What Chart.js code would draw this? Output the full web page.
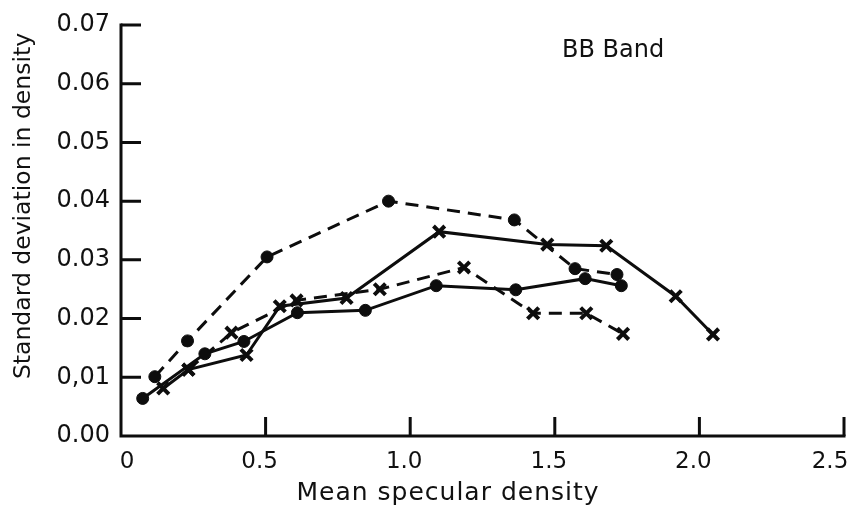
<!DOCTYPE html>
<html>
<head>
<meta charset="utf-8">
<script src="https://cdn.jsdelivr.net/npm/chart.js@4.4.1/dist/chart.umd.min.js"></script>
<style>
  html, body { margin: 0; padding: 0; background: #ffffff; }
  #wrap { width: 847px; height: 523px; }
</style>
</head>
<body>
<div id="wrap"><canvas id="c" width="847" height="523"></canvas></div>
<script>
// ---- data ----
const xTickValues = [0, 0.5, 1.0, 1.5, 2.0, 2.5];
const xTickLabels = ['0', '0.5', '1.0', '1.5', '2.0', '2.5'];
const yTickValues = [0, 0.01, 0.02, 0.03, 0.04, 0.05, 0.06, 0.07];
const yTickLabels = ['0.00', '0,01', '0.02', '0.03', '0.04', '0.05', '0.06', '0.07'];

// dashed line, filled dots
const dotsDashedX = [0.117, 0.23, 0.505, 0.925, 1.36, 1.57, 1.715];
const dotsDashedY = [0.0101, 0.0162, 0.0305, 0.0400, 0.0368, 0.0285, 0.0275];
// solid line, filled dots
const dotsSolidX = [0.075, 0.29, 0.425, 0.61, 0.845, 1.09, 1.365, 1.605, 1.73];
const dotsSolidY = [0.0064, 0.0140, 0.0161, 0.0210, 0.0214, 0.0256, 0.0249, 0.0268, 0.0256];
// solid line, crosses
const crossSolidX = [0.146, 0.233, 0.434, 0.549, 0.78, 1.10, 1.474, 1.678, 1.918, 2.047];
const crossSolidY = [0.0081, 0.0113, 0.0138, 0.0221, 0.0235, 0.0348, 0.0326, 0.0324, 0.0238, 0.0173];
// dashed line, crosses
const crossDashedX = [0.233, 0.382, 0.607, 0.895, 1.186, 1.425, 1.609, 1.736];
const crossDashedY = [0.0113, 0.0176, 0.0231, 0.0250, 0.0287, 0.0209, 0.0209, 0.0174];

const xTitle = 'Mean specular density';
const yTitle = 'Standard deviation in density';
const bandLabel = 'BB Band';

function pts(xs, ys) { return xs.map((x, i) => ({ x: x, y: ys[i] })); }

const INK = '#0d0d0d';
const DASH = [13, 8];

function ds(xs, ys, dashed, style) {
  const isCross = style === 'crossRot';
  return {
    data: pts(xs, ys),
    showLine: true,
    borderColor: INK,
    backgroundColor: INK,
    borderWidth: 3,
    borderDash: dashed ? DASH : [],
    pointStyle: style,
    pointRadius: isCross ? 8 : 6,
    pointBorderWidth: isCross ? 4 : 1,
    pointBackgroundColor: INK,
    pointBorderColor: INK,
    tension: 0,
    clip: false
  };
}

const axesPlugin = {
  id: 'axesPlugin',
  beforeDatasetsDraw(chart) {
    const ctx = chart.ctx;
    const xs = chart.scales.x, ys = chart.scales.y;
    const left = xs.getPixelForValue(0);
    const right = xs.getPixelForValue(2.5);
    const bottom = ys.getPixelForValue(0);
    const top = ys.getPixelForValue(0.07);
    ctx.save();
    ctx.strokeStyle = INK;
    ctx.lineWidth = 3;
    ctx.lineCap = 'square';
    ctx.beginPath();
    ctx.moveTo(left, top);
    ctx.lineTo(left, bottom);
    ctx.lineTo(right, bottom);
    ctx.stroke();
    ctx.lineCap = 'butt';
    ctx.beginPath();
    yTickValues.forEach(v => {
      if (v === 0) return;
      const p = ys.getPixelForValue(v);
      ctx.moveTo(left, p);
      ctx.lineTo(left + 20, p);
    });
    xTickValues.forEach(v => {
      if (v === 0) return;
      const p = xs.getPixelForValue(v);
      ctx.moveTo(p, bottom);
      ctx.lineTo(p, bottom - 19);
    });
    ctx.stroke();
    ctx.restore();
  },
  afterDraw(chart) {
    const ctx = chart.ctx;
    const xs = chart.scales.x, ys = chart.scales.y;
    const bottom = ys.getPixelForValue(0);
    ctx.save();
    ctx.fillStyle = '#111111';
    // x tick labels, placed through the x scale
    ctx.font = '23px "DejaVu Sans"';
    ctx.textAlign = 'center';
    ctx.textBaseline = 'alphabetic';
    xTickValues.forEach((v, i) => {
      const p = xs.getPixelForValue(v);
      const shift = v === 0 ? 6 : (v === 2.5 ? -14 : -6);
      ctx.fillText(xTickLabels[i], p + shift, bottom + 32);
    });
    // x title
    ctx.font = '25px "DejaVu Sans"';
    try { ctx.letterSpacing = '1px'; } catch (e) {}
    ctx.fillText(xTitle, 448, 500);
    // band label
    ctx.font = '24px "DejaVu Sans"';
    try { ctx.letterSpacing = '0px'; } catch (e) {}
    ctx.textAlign = 'left';
    ctx.fillText(bandLabel, 562, 57);
    // y title
    ctx.translate(30, 206);
    ctx.rotate(-Math.PI / 2);
    ctx.font = '23.5px "DejaVu Sans"';
    ctx.textAlign = 'center';
    ctx.fillText(yTitle, 0, 0);
    ctx.restore();
  }
};

new Chart(document.getElementById('c'), {
  type: 'scatter',
  data: {
    datasets: [
      ds(dotsDashedX, dotsDashedY, true, 'circle'),
      ds(dotsSolidX, dotsSolidY, false, 'circle'),
      ds(crossSolidX, crossSolidY, false, 'crossRot'),
      ds(crossDashedX, crossDashedY, true, 'crossRot')
    ]
  },
  options: {
    responsive: false,
    animation: false,
    devicePixelRatio: 1,
    layout: { autoPadding: false, padding: { top: 25, right: 3, left: 0, bottom: 0 } },
    plugins: { legend: { display: false }, tooltip: { enabled: false }, title: { display: false } },
    scales: {
      x: {
        type: 'linear',
        min: 0, max: 2.5,
        afterFit(s) { s.height = 87; },
        afterBuildTicks(s) { s.ticks = xTickValues.map(v => ({ value: v })); },
        grid: { display: false, drawTicks: false },
        border: { display: false },
        ticks: { display: false }
      },
      y: {
        type: 'linear',
        min: 0, max: 0.07,
        afterFit(s) { s.width = 121; s.paddingTop = 0; s.paddingBottom = 0; },
        afterBuildTicks(s) { s.ticks = yTickValues.map(v => ({ value: v })); },
        grid: { display: false, drawTicks: false },
        border: { display: false },
        ticks: {
          color: '#111111',
          font: { family: 'DejaVu Sans', size: 24 },
          padding: 11,
          autoSkip: false,
          callback: (v, i) => yTickLabels[i]
        }
      }
    }
  },
  plugins: [axesPlugin]
});
</script>
</body>
</html>
